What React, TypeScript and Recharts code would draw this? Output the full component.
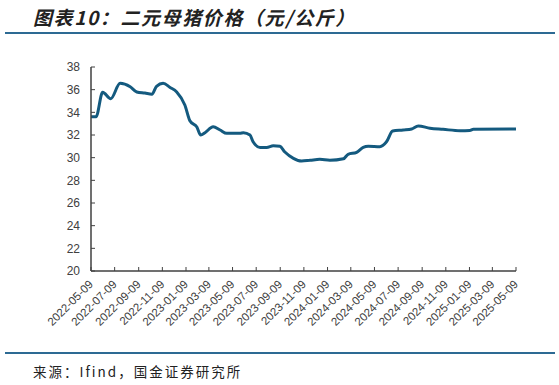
import { LineChart, Line, XAxis, YAxis } from 'recharts';

const dates = [
  '2022-05-09', '2022-05-22', '2022-06-08', '2022-06-29', '2022-07-23', '2022-08-18',
  '2022-09-04', '2022-09-25', '2022-10-13', '2022-10-25', '2022-11-11', '2022-11-29',
  '2022-12-16', '2023-01-06', '2023-01-19', '2023-02-06', '2023-02-16', '2023-02-27',
  '2023-03-20', '2023-04-07', '2023-04-24', '2023-05-28', '2023-06-06', '2023-06-23',
  '2023-07-01', '2023-07-19', '2023-08-05', '2023-08-22', '2023-09-08', '2023-09-21',
  '2023-10-13', '2023-11-03', '2023-11-25', '2023-12-20', '2024-01-15', '2024-02-19',
  '2024-03-02', '2024-03-24', '2024-04-10', '2024-04-23', '2024-05-23', '2024-06-09',
  '2024-06-25', '2024-07-22', '2024-08-13', '2024-08-30', '2024-09-29', '2024-11-02',
  '2024-12-16', '2025-01-10', '2025-01-19', '2025-05-09',
];

const prices = [
  33.6, 33.6, 35.77, 35.2, 36.56, 36.26,
  35.8, 35.7, 35.6, 36.3, 36.56, 36.2,
  35.8, 34.65, 33.26, 32.7, 32.0, 32.2,
  32.73, 32.44, 32.15, 32.15, 32.2, 32.0,
  31.4, 30.9, 30.9, 31.05, 31.0, 30.5,
  29.94, 29.7, 29.77, 29.85, 29.77, 29.9,
  30.3, 30.47, 30.9, 31.0, 30.97, 31.4,
  32.35, 32.44, 32.53, 32.8, 32.6, 32.5,
  32.38, 32.4, 32.5, 32.53,
];

const tickLabels = [
  '2022-05-09', '2022-07-09', '2022-09-09', '2022-11-09', '2023-01-09', '2023-03-09',
  '2023-05-09', '2023-07-09', '2023-09-09', '2023-11-09', '2024-01-09', '2024-03-09',
  '2024-05-09', '2024-07-09', '2024-09-09', '2024-11-09', '2025-01-09', '2025-03-09',
  '2025-05-09',
];

const yTicks = [20, 22, 24, 26, 28, 30, 32, 34, 36, 38];

const toTime = (s: string) => Date.parse(s + 'T00:00:00Z');

const data = dates.map((d, i) => ({ t: toTime(d), price: prices[i] }));
const xTicks = tickLabels.map(toTime);

const fmt = (v: number) => new Date(v).toISOString().slice(0, 10);

const DateTick = (props: any) => {
  const { x, y, payload } = props;
  return (
    <g transform={`translate(${x},${y})`}>
      <text
        x={0}
        y={0}
        dy="0.35em"
        textAnchor="end"
        transform="rotate(-45)"
        fill="#404040"
        fontSize={11.5}
        fontFamily="'Liberation Sans', Arial, sans-serif"
      >
        {fmt(payload.value)}
      </text>
    </g>
  );
};

export default function App() {
  return (
    <div style={{ position: 'absolute', left: 0, top: 0, width: 559, height: 385, background: '#fff' }}>
      <div
        style={{
          position: 'absolute',
          left: 33,
          top: 3,
          fontFamily: "'Noto Sans CJK SC', sans-serif",
          fontSize: 19,
          fontWeight: 'bold',
          fontStyle: 'italic',
          color: '#222',
          letterSpacing: 1.6,
        }}
      >
        图表10：二元母猪价格（元/公斤）
      </div>
      <div style={{ position: 'absolute', left: 5, top: 32, width: 550, height: 2, background: '#2d6a93' }} />
      <LineChart width={559} height={385} data={data} margin={{ top: 67, right: 43, bottom: 34, left: 51 }}>
        <XAxis
          dataKey="t"
          type="number"
          scale="time"
          domain={[xTicks[0], xTicks[xTicks.length - 1]]}
          ticks={xTicks}
          interval={0}
          height={80}
          tickSize={-4}
          tickMargin={15}
          tick={<DateTick />}
          axisLine={{ stroke: '#404040', strokeWidth: 1.5 }}
          tickLine={{ stroke: '#404040' }}
        />
        <YAxis
          type="number"
          domain={[20, 38]}
          ticks={yTicks}
          interval={0}
          width={40}
          tickSize={-4}
          tickMargin={15}
          tick={{ fill: '#404040', fontSize: 12, fontFamily: "'Liberation Sans', Arial, sans-serif" }}
          axisLine={{ stroke: '#404040', strokeWidth: 1.5 }}
          tickLine={{ stroke: '#404040' }}
        />
        <Line
          type="monotone"
          dataKey="price"
          stroke="#145a7f"
          strokeWidth={3}
          dot={false}
          isAnimationActive={false}
        />
      </LineChart>
      <div style={{ position: 'absolute', left: 5, top: 352, width: 550, height: 2, background: '#2d6a93' }} />
      <div
        style={{
          position: 'absolute',
          left: 33,
          top: 361,
          fontFamily: "'Noto Sans CJK SC', sans-serif",
          fontSize: 13.5,
          color: '#222',
          letterSpacing: 2,
        }}
      >
        来源：Ifind，国金证券研究所
      </div>
    </div>
  );
}
